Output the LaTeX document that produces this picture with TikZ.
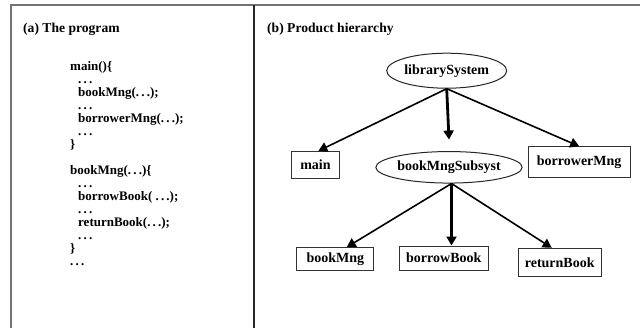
\documentclass[tikz,border=0pt]{standalone}
\usepackage{fontspec}
\setmainfont{Liberation Serif}
\usetikzlibrary{arrows.meta,shapes.geometric}

\tikzset{
  framerule/.style={draw=black!55, line width=1.4bp},
  divider/.style={draw=black!85, line width=1.4bp},
  title/.style={anchor=base west, inner sep=0pt, font=\fontsize{13.6bp}{13.6bp}\selectfont\bfseries},
  codeline/.style={anchor=base west, inner sep=0pt, font=\fontsize{13bp}{13bp}\selectfont\bfseries},
  modbox/.style={draw=black!80, line width=1bp, rectangle, inner sep=0pt,
                 font=\fontsize{14bp}{14bp}\selectfont\bfseries},
  subsys/.style={draw=black!85, line width=1bp, ellipse, inner sep=0pt,
                 font=\fontsize{14bp}{14bp}\selectfont\bfseries},
  call/.style={draw=black, line width=1.6bp, -{Triangle[length=9bp,width=10bp]}},
  maincall/.style={draw=black, line width=2.8bp, -{Triangle[length=9bp,width=10bp]}},
}

\begin{document}
\begin{tikzpicture}[x=1bp,y=-1bp]
\useasboundingbox (0,0) rectangle (640,328);

% outer frame and panel divider
\draw[framerule] (11,328) -- (11,5) -- (640,5);
\draw[divider] (254,5) -- (254,328);

% panel titles
\node[title] (ta) at (23,32.5) {(a) The program};
\node[title] (tb) at (267,32.5) {(b) Product hierarchy};

% (a) program listing
\node[codeline] (c1)  at (70,70.5)  {main()\{};
\node[codeline] (c2)  at (78,83.5)  {.\,.\,.};
\node[codeline] (c3)  at (78,96.5)  {bookMng(.\,.\,.);};
\node[codeline] (c4)  at (78,109.5) {.\,.\,.};
\node[codeline] (c5)  at (78,122.5) {borrowerMng(.\,.\,.);};
\node[codeline] (c6)  at (78,135.5) {.\,.\,.};
\node[codeline] (c7)  at (70,148.5) {\}};
\node[codeline] (c8)  at (70,174.5) {bookMng(.\,.\,.)\{};
\node[codeline] (c9)  at (78,187.5) {.\,.\,.};
\node[codeline] (c10) at (78,200.5) {borrowBook( .\,.\,.);};
\node[codeline] (c11) at (78,213.5) {.\,.\,.};
\node[codeline] (c12) at (78,226.5) {returnBook(.\,.\,.);};
\node[codeline] (c13) at (78,239.5) {.\,.\,.};
\node[codeline] (c14) at (70,252.5) {\}};
\node[codeline] (c15) at (70,265.5) {.\,.\,.};

% (b) product hierarchy
\node[subsys, minimum width=120bp, minimum height=35bp] (lib) at (446.7,70.7) {librarySystem};
\node[modbox, minimum width=47.6bp, minimum height=27bp] (main) at (315.5,165) {main};
\node[subsys, minimum width=128bp, minimum height=31.5bp] (bms) at (449,167.3) {bookMngSubsyst};
\node[modbox, minimum width=102bp, minimum height=31bp] (brm) at (579.2,162.3) {borrowerMng};
\node[modbox, minimum width=77bp, minimum height=23bp] (bkm) at (335.3,259.2) {bookMng};
\node[modbox, minimum width=89bp, minimum height=24bp] (bb) at (443.8,258) {borrowBook};
\node[modbox, minimum width=82.7bp, minimum height=28.4bp] (rb) at (559.7,262.5) {returnBook};

% arrow start and end points
\coordinate (libfoot) at (lib.south);
\coordinate (bmsgap) at ([yshift=11.5bp]bms.north);
\coordinate (bmsfoot) at ([xshift=2.5bp]bms.south);
\coordinate (xmain) at (318.3,0);
\coordinate (xbkm) at (346.7,0);
\coordinate (xbb) at (451.5,0);
\coordinate (xrb) at (551.7,0);

\draw[call] (libfoot) -- (xmain |- main.north);
\draw[maincall] (libfoot) -- (bmsgap);
\draw[call] (libfoot) -- (brm.north);
\draw[call] (bmsfoot) -- (xbkm |- bkm.north);
\draw[maincall] (bmsfoot) -- (xbb |- bb.north);
\draw[call] (bmsfoot) -- (xrb |- rb.north);
\end{tikzpicture}
\end{document}
